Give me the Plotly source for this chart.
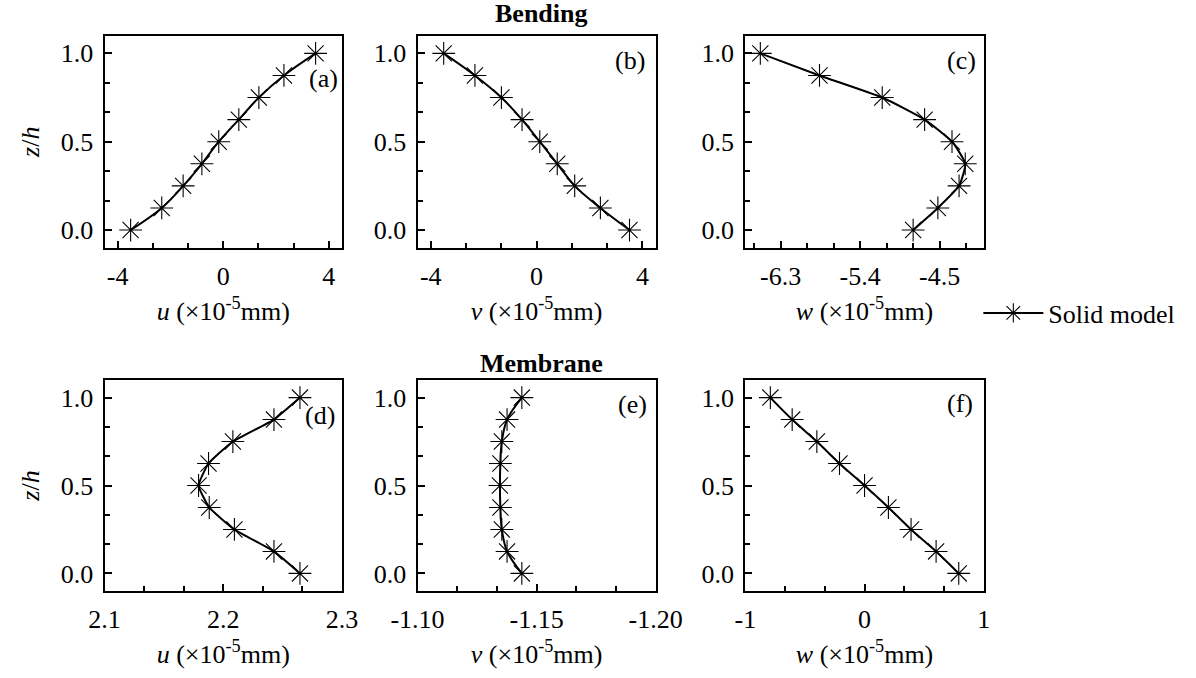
import plotly.graph_objects as go

# ---------------- data ----------------
z_over_h = [0.0, 0.125, 0.25, 0.375, 0.5, 0.625, 0.75, 0.875, 1.0]

u_bending = [-3.51, -2.33, -1.52, -0.81, -0.17, 0.59, 1.35, 2.30, 3.50]
v_bending = [3.51, 2.41, 1.44, 0.78, 0.12, -0.55, -1.33, -2.33, -3.51]
w_bending = [-4.80, -4.52, -4.28, -4.21, -4.36, -4.67, -5.15, -5.86, -6.53]

u_membrane = [2.2646, 2.2427, 2.2094, 2.1882, 2.1792, 2.1876, 2.2081, 2.2427, 2.2646]
v_membrane = [-1.1438, -1.1376, -1.1354, -1.1348, -1.1346, -1.1348, -1.1354, -1.1376, -1.1438]
w_membrane = [0.79, 0.60, 0.39, 0.20, 0.0, -0.21, -0.40, -0.607, -0.79]

panel_labels = ["(a)", "(b)", "(c)", "(d)", "(e)", "(f)"]
x_titles = ["<i>u</i> (×10<sup>-5</sup>mm)", "<i>v</i> (×10<sup>-5</sup>mm)", "<i>w</i> (×10<sup>-5</sup>mm)"] * 2
y_title = "<i>z</i>/<i>h</i>"
group_titles = ["Bending", "Membrane"]
legend_name = "Solid model"

y_tickvals = [0.0, 0.5, 1.0]
y_ticktext = ["0.0", "0.5", "1.0"]

x_tickvals = [
    [-4, 0, 4],
    [-4, 0, 4],
    [-6.3, -5.4, -4.5],
    [2.1, 2.2, 2.3],
    [-1.10, -1.15, -1.20],
    [-1, 0, 1],
]
x_ticktext = [
    ["-4", "0", "4"],
    ["-4", "0", "4"],
    ["-6.3", "-5.4", "-4.5"],
    ["2.1", "2.2", "2.3"],
    ["-1.10", "-1.15", "-1.20"],
    ["-1", "0", "1"],
]

# ---------------- style / layout ----------------
W, H = 1196, 678
FONT = "Liberation Serif"
FS = 26

x_ranges = [[-4.5, 4.5], [-4.5, 4.5], [-6.7, -4.0], [2.1, 2.3], [-1.10, -1.20], [-1.0, 1.0]]
x_minor = [(4 / 3, -4), (4 / 3, -4), (0.3, -6.3), (0.1 / 3, 2.1), (0.05 / 3, -1.10), (1 / 3, -1)]

col_px = [(104.5, 342.0), (417.5, 655.7), (745.3, 983.8)]
row_px = [(35.7, 247.7), (380.0, 591.0)]

label_pos = [(0.99, 0.80), (0.965, 0.885), (0.975, 0.885),
             (0.98, 0.834), (0.97, 0.882), (0.965, 0.89)]

series = [u_bending, v_bending, w_bending, u_membrane, v_membrane, w_membrane]
smooth = [1.0, 1.0, 0.5, 0.4, 1.0, 1.0]

fig = go.Figure()
layout = dict(
    width=W, height=H, autosize=False,
    margin=dict(l=0, r=0, t=0, b=0, autoexpand=False),
    paper_bgcolor="white", plot_bgcolor="white",
    font=dict(family=FONT, size=FS, color="black"),
    showlegend=True,
    legend=dict(x=0.818, y=1 - 313 / H, xanchor="left", yanchor="middle",
                bgcolor="rgba(0,0,0,0)", font=dict(family=FONT, size=FS, color="black"),
                itemwidth=60, borderwidth=0, tracegroupgap=0),
)
annotations = []

for i in range(6):
    r, c = divmod(i, 3)
    k = "" if i == 0 else str(i + 1)
    xa, ya = "x" + k, "y" + k
    fig.add_trace(go.Scatter(
        x=series[i], y=z_over_h, xaxis=xa, yaxis=ya,
        mode="lines+markers", name=legend_name, showlegend=(i == 0),
        line=dict(color="black", width=2, shape="spline", smoothing=smooth[i]),
        marker=dict(symbol="asterisk-open", size=19, color="black",
                    line=dict(color="#222", width=1.1)),
    ))
    x0, x1 = col_px[c]
    y0, y1 = row_px[r]
    common = dict(showline=True, linewidth=2, linecolor="black", mirror=True,
                  ticks="inside", ticklen=7, tickwidth=1.6, tickcolor="black",
                  showgrid=False, zeroline=False, automargin=False,
                  tickfont=dict(family=FONT, size=FS, color="black"))
    layout["xaxis" + k] = dict(
        domain=[x0 / W, x1 / W], anchor=ya, range=x_ranges[i],
        tickmode="array", tickvals=x_tickvals[i], ticktext=x_ticktext[i],
        minor=dict(dtick=x_minor[i][0], tick0=x_minor[i][1], ticks="inside",
                   ticklen=5, tickwidth=1.6, tickcolor="black", showgrid=False),
        ticklabelstandoff=4,
        title=dict(text=x_titles[i], standoff=12, font=dict(family=FONT, size=FS)),
        **common)
    ydict = dict(
        domain=[1 - y1 / H, 1 - y0 / H], anchor=xa, range=[-0.1, 1.1],
        tickmode="array", tickvals=y_tickvals, ticktext=y_ticktext,
        minor=dict(dtick=1 / 6, tick0=0, ticks="inside", ticklen=5,
                   tickwidth=1.6, tickcolor="black", showgrid=False),
        ticklabelstandoff=4,
        **common)
    if c == 0:
        ydict["title"] = dict(text=y_title, standoff=14, font=dict(family=FONT, size=FS))
    layout["yaxis" + k] = ydict
    lx, ly = label_pos[i]
    annotations.append(dict(text=panel_labels[i], xref=xa + " domain", yref=ya + " domain",
                            x=lx, y=ly, xanchor="right", yanchor="middle", showarrow=False,
                            font=dict(family=FONT, size=FS, color="black")))

annotations.append(dict(text="<b>" + group_titles[0] + "</b>", xref="paper", yref="paper",
                        x=541 / W, y=1 - 14 / H, xanchor="center", yanchor="middle",
                        showarrow=False, font=dict(family=FONT, size=26, color="black")))
annotations.append(dict(text="<b>" + group_titles[1] + "</b>", xref="paper", yref="paper",
                        x=541.5 / W, y=1 - 363 / H, xanchor="center", yanchor="middle",
                        showarrow=False, font=dict(family=FONT, size=26, color="black")))
layout["annotations"] = annotations
fig.update_layout(**layout)
fig.write_html("out.html")
